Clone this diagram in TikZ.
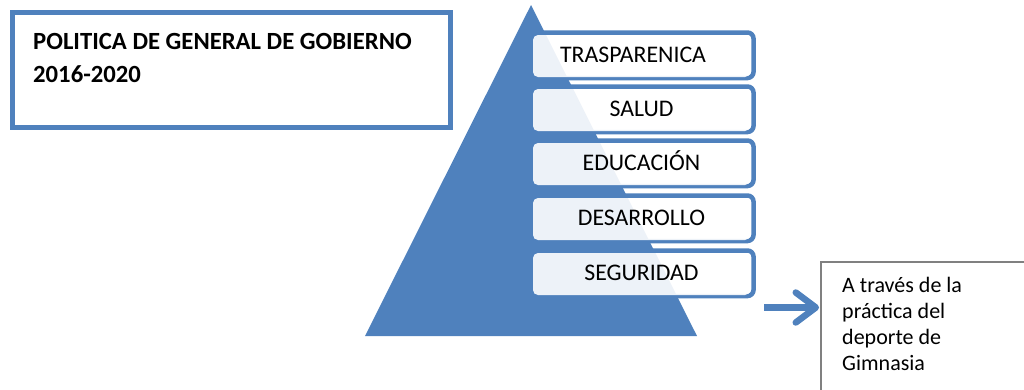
\documentclass[tikz,border=0pt]{standalone}
\usepackage{fontspec}
\setmainfont{Carlito}
\usetikzlibrary{arrows.meta}
\definecolor{ofblue}{HTML}{4F81BD}
\definecolor{boxgray}{HTML}{808080}
\tikzset{
  pout/.style={draw=ofblue, line width=4.5pt, rounded corners=6pt},
  pfill/.style={fill=white, fill opacity=0.9, rounded corners=5pt, draw=none},
  plabel/.style={anchor=base, inner sep=0pt, font=\fontsize{23.8}{28}\selectfont, text=black},
  glabel/.style={anchor=base west, inner sep=0pt, font=\fontsize{22}{26}\selectfont, text=black},
  tlabel/.style={anchor=base west, inner sep=0pt, font=\bfseries\fontsize{24.7}{30}\selectfont, text=black},
  bluearrow/.style={draw=ofblue, line width=6.5pt, -{Straight Barb[length=20pt, width=30pt, line width=6.5pt, round]}},
}
\begin{document}
\begin{tikzpicture}[x=1pt,y=-1pt]
\useasboundingbox (0,0) rectangle (1024,389);
% title box
\draw[ofblue, line width=5pt] (12.5,12.5) rectangle (450.5,127.5);
\node[tlabel] (t1) at (33,49) {POLITICA DE GENERAL DE GOBIERNO};
\node[tlabel] (t2) at (33,82) {2016-2020};
% pyramid
\fill[ofblue] (531,5) -- (697,336) -- (365,336) -- cycle;
% boxes
\foreach \T/\name/\tx [count=\i] in {35/TRASPARENICA/633, 89/SALUD/641.5, 143/EDUCACIÓN/641.5, 198/DESARROLLO/641.5, 253/SEGURIDAD/641.5}{
  \draw[pout] (530,\T-2.5) rectangle (753.5,\T+43);
  \fill[pfill] (533,\T) rectangle (750,\T+42);
  \node[plabel] (p\i) at (\tx,\T+27.5) {\name};
}
% right text box
\node[draw=boxgray, line width=1.6pt, minimum width=220pt, minimum height=140pt, anchor=north west, inner sep=0pt] (gbox) at (820,261) {};
\node[glabel] (g1) at (842,292) {A través de la};
\node[glabel] (g2) at (842,318) {práctica del};
\node[glabel] (g3) at (842,344) {deporte de};
\node[glabel] (g4) at (842,370) {Gimnasia};
% arrow
\coordinate (as) at (764,307.5);
\draw[bluearrow] (as) -- ([xshift=-1pt]as -| gbox.west);
\end{tikzpicture}
\end{document}
